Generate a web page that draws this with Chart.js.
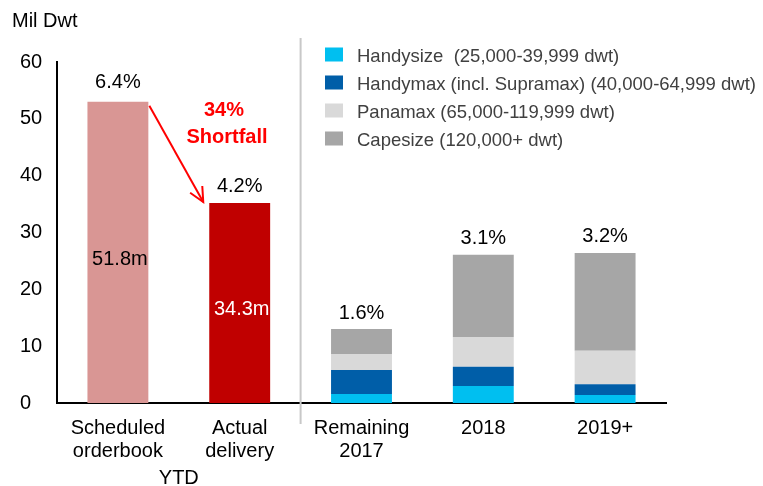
<!DOCTYPE html>
<html>
<head>
<meta charset="utf-8">
<script src="https://cdn.jsdelivr.net/npm/chart.js@4/dist/chart.umd.min.js"></script>
<style>
  html, body { margin: 0; padding: 0; background: #fff; }
  #wrap { width: 763px; height: 486px; }
</style>
</head>
<body>
<div id="wrap"><canvas id="myChart" width="763" height="486"></canvas></div>
<script>
// categories and values
const categories = [ [ 'Scheduled', 'orderbook' ], [ 'Actual', 'delivery' ], [ 'Remaining', '2017' ], '2018', '2019+' ];
const ytdValues = [ 53.0, 35.2, null, null, null ];
const handysize = [ null, null, 1.6, 3.0, 1.4 ];
const handymax = [ null, null, 4.2, 3.4, 1.9 ];
const panamax = [ null, null, 2.8, 5.2, 5.9 ];
const capesize = [ null, null, 4.4, 14.5, 17.2 ];
const pctLabels = [ '6.4%', '4.2%', '1.6%', '3.1%', '3.2%' ];
const ytdLabels = [ '51.8m', '34.3m' ];
const yTicks = [ 0, 10, 20, 30, 40, 50, 60 ];

const FONT = "'Liberation Sans', Arial, sans-serif";

const overlay = {
    id: 'overlay',
    afterDraw( chart )
    {
        const c = chart.ctx;
        const x = chart.scales.x;
        const y = chart.scales.y;
        const area = chart.chartArea;
        c.save();

        // separator between YTD and forward years
        const sepX = ( x.getPixelForValue( 1 ) + x.getPixelForValue( 2 ) ) / 2;
        c.strokeStyle = '#c8c8c8';
        c.lineWidth = 2;
        c.beginPath();
        c.moveTo( sepX, 38 );
        c.lineTo( sepX, area.bottom + 21 );
        c.stroke();

        // axis title
        c.fillStyle = '#000';
        c.font = '20px ' + FONT;
        c.textAlign = 'left';
        c.textBaseline = 'middle';
        c.fillText( 'Mil Dwt', 12, 21 );

        // YTD group label
        c.textAlign = 'center';
        c.fillText( 'YTD', ( x.getPixelForValue( 0 ) + x.getPixelForValue( 1 ) ) / 2, 478 );

        // percent labels above each bar
        for ( let i = 0; i < categories.length; i++ )
        {
            let total = 0;
            chart.data.datasets.forEach( ds => { total += ds.data[ i ] || 0; } );
            const top = y.getPixelForValue( total );
            c.fillStyle = '#000';
            c.fillText( pctLabels[ i ], x.getPixelForValue( i ), top - ( i === 0 ? 19 : 16 ) );
        }

        // values inside YTD bars
        const meta = chart.getDatasetMeta( 0 );
        for ( let i = 0; i < ytdLabels.length; i++ )
        {
            const bar = meta.data[ i ];
            const mid = ( bar.y + bar.base ) / 2 + 7;
            c.fillStyle = i === 0 ? '#000' : '#fff';
            c.fillText( ytdLabels[ i ], bar.x + 2, mid );
        }

        // shortfall arrow
        const b0 = meta.data[ 0 ], b1 = meta.data[ 1 ];
        const sx = b0.x + b0.width / 2 + 1, sy = b0.y + 4;
        const ex = b1.x - b1.width / 2 - 6, ey = b1.y - 1;
        c.strokeStyle = '#ff0000';
        c.lineWidth = 2;
        c.beginPath();
        c.moveTo( sx, sy );
        c.lineTo( ex, ey );
        c.stroke();
        const ang = Math.atan2( ey - sy, ex - sx );
        c.beginPath();
        c.moveTo( ex - 16 * Math.cos( ang - 0.45 ), ey - 16 * Math.sin( ang - 0.45 ) );
        c.lineTo( ex, ey );
        c.lineTo( ex - 16 * Math.cos( ang + 0.45 ), ey - 16 * Math.sin( ang + 0.45 ) );
        c.stroke();

        c.fillStyle = '#ff0000';
        c.font = 'bold 20px ' + FONT;
        c.fillText( '34%', 224, 110 );
        c.fillText( 'Shortfall', 227, 137 );

        // legend
        c.font = '18.5px ' + FONT;
        c.textAlign = 'left';
        for ( let k = 1; k < chart.data.datasets.length; k++ )
        {
            const ds = chart.data.datasets[ k ];
            const cy = 54.5 + ( k - 1 ) * 28;
            c.fillStyle = ds.backgroundColor;
            c.fillRect( 325, cy - 7, 18, 14 );
            c.fillStyle = '#404040';
            c.fillText( ds.label, 357, cy + 2 );
        }
        c.restore();
    }
};

new Chart( document.getElementById( 'myChart' ), {
    type: 'bar',
    data: {
        labels: categories,
        datasets: [
            { label: 'YTD', data: ytdValues, backgroundColor: [ '#d99694', '#c00000' ] },
            { label: 'Handysize  (25,000-39,999 dwt)', data: handysize, backgroundColor: '#00bff0' },
            { label: 'Handymax (incl. Supramax) (40,000-64,999 dwt)', data: handymax, backgroundColor: '#005ea8' },
            { label: 'Panamax (65,000-119,999 dwt)', data: panamax, backgroundColor: '#d9d9d9' },
            { label: 'Capesize (120,000+ dwt)', data: capesize, backgroundColor: '#a6a6a6' }
        ]
    },
    options: {
        responsive: false,
        animation: false,
        barPercentage: 0.5,
        categoryPercentage: 1,
        layout: { padding: { left: 20, top: 62, right: 97, bottom: 0 } },
        plugins: { legend: { display: false }, tooltip: { enabled: false } },
        scales: {
            x: {
                stacked: true,
                grid: { display: false, drawTicks: false },
                border: { color: '#000', width: 2 },
                ticks: { color: '#000', font: { family: FONT, size: 20, lineHeight: 1.15 }, padding: 14, maxRotation: 0 },
                afterFit: s => { s.height = 83; }
            },
            y: {
                stacked: true,
                min: 0,
                max: 60,
                afterBuildTicks: s => { s.ticks = yTicks.map( v => ( { value: v } ) ); },
                grid: { display: false, drawTicks: false },
                border: { color: '#000', width: 2 },
                ticks: { color: '#000', crossAlign: 'far', font: { family: FONT, size: 20 } },
                afterFit: s => { s.width = 37; }
            }
        }
    },
    plugins: [ overlay ]
} );
</script>
</body>
</html>
